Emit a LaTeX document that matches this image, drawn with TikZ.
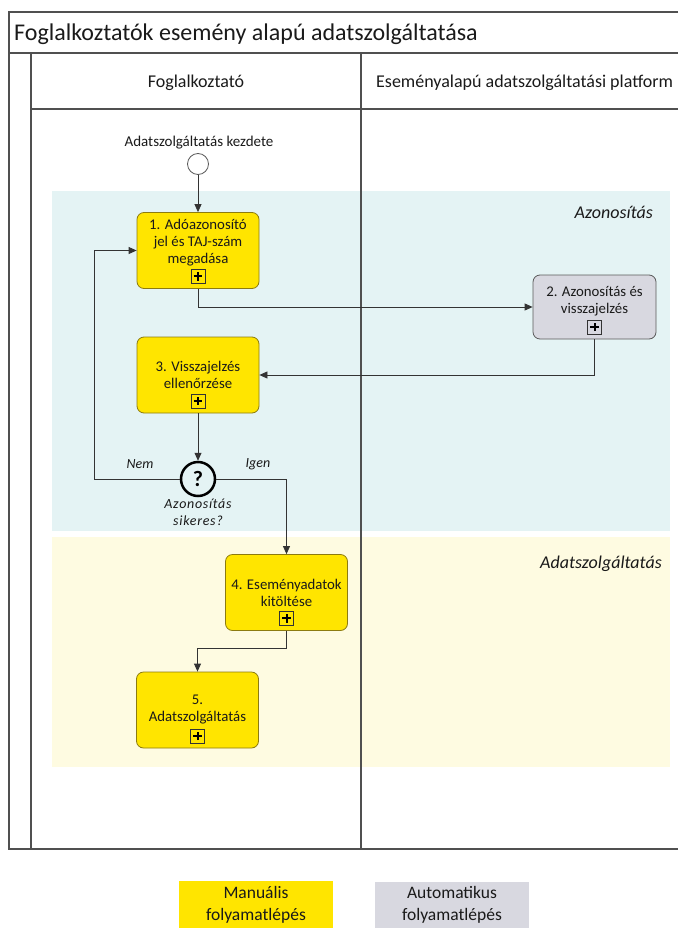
\documentclass[tikz,border=0pt]{standalone}
\usepackage{fontspec}
\setmainfont{Carlito}
\newfontfamily\gwfont{Carlito}[LetterSpace=5]
\usetikzlibrary{arrows.meta,calc}
\definecolor{bandblue}{HTML}{E4F3F4}
\definecolor{bandyellow}{HTML}{FEFBE1}
\definecolor{taskyellow}{HTML}{FFE500}
\definecolor{taskgray}{HTML}{D8D8E0}
\definecolor{lanegray}{HTML}{505050}
\definecolor{flowgray}{HTML}{333333}
\definecolor{txt}{HTML}{1A1A1A}
\definecolor{yellowborder}{HTML}{8C7B10}
\definecolor{grayborder}{HTML}{5A5A5A}
\newcommand\myfs[2]{\fontsize{#1}{#2}\selectfont}
\begin{document}
\begin{tikzpicture}[x=1pt,y=-1pt,
  lane/.style={draw=lanegray,line width=1.1pt},
  task/.style={draw=yellowborder, fill=taskyellow, rounded corners=7pt, line width=0.8pt,
    minimum width=122pt, minimum height=76pt, align=center, inner sep=2pt, text=txt,
    font=\myfs{14.8}{17}},
  autotask/.style={task, draw=grayborder, fill=taskgray, minimum width=123pt, minimum height=64pt},
  plusbox/.style={draw=flowgray, line width=0.8pt, minimum size=14pt, inner sep=0pt,
    path picture={
      \draw[line width=2pt,black] ([xshift=-4.3pt]path picture bounding box.center) -- ([xshift=4.3pt]path picture bounding box.center);
      \draw[line width=2pt,black] ([yshift=-4.3pt]path picture bounding box.center) -- ([yshift=4.3pt]path picture bounding box.center);}},
  flow/.style={draw=flowgray, line width=0.8pt, -{Triangle[length=8pt,width=7pt]}},
  gateway/.style={circle, draw=black, line width=2.5pt, minimum size=34pt, inner sep=0pt,
    font=\bfseries\myfs{22}{22}, text=black},
  startev/.style={circle, draw=grayborder, fill=white, line width=0.8pt, minimum size=21pt, inner sep=0pt},
  smalllbl/.style={font=\itshape\myfs{14}{17}, text=txt, inner sep=0pt},
  bandlbl/.style={font=\itshape\myfs{18}{20}, text=txt, inner sep=0pt, anchor=base east},
  legendbox/.style={minimum width=154pt, inner sep=0pt, align=center, font=\myfs{17.5}{22}, text=txt}
]
\useasboundingbox (0,0) rectangle (678,928);
% bands
\fill[bandblue] (52,191) rectangle (670,531);
\fill[bandyellow] (52,537) rectangle (670,767);
% pool and lanes
\draw[lane] (678,12) -- (9,12) -- (9,849) -- (678,849);
\draw[lane] (9,53) -- (678,53);
\draw[lane] (31,53) -- (31,849);
\draw[lane] (31,109) -- (678,109);
\draw[lane] (361,53) -- (361,849);
% titles
\node[anchor=base west, inner sep=0pt, font=\myfs{24}{28}, text=txt] (title) at (14,41) {Foglalkoztatók esemény alapú adatszolgáltatása};
\node[anchor=base, inner sep=0pt, font=\myfs{18}{22}, text=txt] (lane1) at (196,88) {Foglalkoztató};
\node[anchor=base west, inner sep=0pt, font=\myfs{18}{22}, text=txt] (lane2) at (376,88) {Eseményalapú adatszolgáltatási platform};
\node[bandlbl] (band1) at (653,218) {Azonosítás};
\node[bandlbl] (band2) at (662,568) {Adatszolgáltatás};
% start
\node[font=\myfs{15}{18}, text=txt, inner sep=0pt] (startlbl) at (199,143) {Adatszolgáltatás kezdete};
\node[startev] (start) at (198,164) {};
% tasks
\node[task] (t1) at (198,250.5) {1. Adóazonosító\\jel és TAJ-szám\\megadása\rule[-18pt]{0pt}{0pt}};
\node[autotask] (t2) at (594.5,307) {2. Azonosítás és\\visszajelzés\rule[-14pt]{0pt}{0pt}};
\node[task] (t3) at (198,375) {3. Visszajelzés\\ellenőrzése};
\node[task] (t4) at (286.5,592.5) {4. Eseményadatok\\kitöltése};
\node[task] (t5) at (197.5,710) {5.\\Adatszolgáltatás};
\foreach \t/\c in {t1/taskyellow,t2/taskgray,t3/taskyellow,t4/taskyellow,t5/taskyellow}
  \node[plusbox, fill=\c] (p\t) at ([yshift=12.5pt]\t.south) {};
% gateway
\node[gateway] (gw) at (198,479) {?};
\node[smalllbl, align=center, font=\gwfont\itshape\myfs{14}{17}] (gwl) at (198,512) {Azonosítás\\sikeres?};
\node[smalllbl] (nem) at (140,464) {Nem};
\node[smalllbl] (igen) at (258,464) {Igen};
\coordinate (nemc) at (94,479);
% flows
\draw[flow] (start) -- (start |- t1.north);
\draw[flow] (t1.south) |- (t2.west);
\draw[flow] (t2.south) |- (t3.east);
\draw[flow] (t3.south) -- (gw.north);
\draw[flow] (gw.west) -- (nemc) |- (t1.west);
\draw[flow] (gw.east) -| (t4.north);
\draw[flow] (t4.south) -- ++(0,17) -| (t5.north);
% legend
\node[legendbox, fill=taskyellow, minimum height=47pt] (lman) at (256,904.5) {Manuális\\folyamatlépés};
\node[legendbox, fill=taskgray, minimum height=46pt] (lauto) at (452,905) {Automatikus\\folyamatlépés};
\end{tikzpicture}
\end{document}
